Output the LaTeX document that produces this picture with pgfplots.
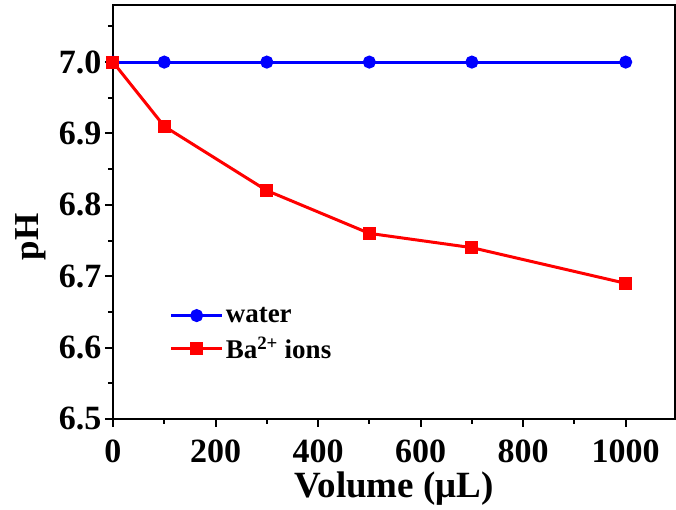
\documentclass[border=0pt]{standalone}
\usepackage{fontspec}
\setmainfont{Liberation Serif}
\usepackage{pgfplots}
\pgfplotsset{compat=1.18}
\begin{document}
\begin{tikzpicture}
\begin{axis}[
  name=ax,
  scale only axis,
  width=562pt, height=414pt,
  xmin=0, xmax=1096,
  ymin=6.5, ymax=7.08,
  xtick={0,200,...,1000},
  minor xtick={100,300,...,900},
  ytick={6.5,6.6,...,7.0},
  minor ytick={6.55,6.65,...,7.05},
  xticklabel style={/pgf/number format/1000 sep={}, yshift=-9pt},
  yticklabel style={/pgf/number format/.cd,fixed,fixed zerofill,precision=1},
  /pgf/number format/assume math mode=true,
  tick label style={font=\fontsize{34}{36}\selectfont\bfseries},
  xtick pos=bottom, ytick pos=left,
  tick align=outside,
  major tick length=8pt, minor tick length=5pt,
  every tick/.style={black, line width=2pt},
  axis line style={line width=2.2pt},
  xlabel={Volume (μL)},
  ylabel={pH},
  label style={font=\fontsize{37}{39}\selectfont\bfseries},
  xlabel style={yshift=-3pt},
  ylabel style={at={(ticklabel cs:0.44)}, yshift=6pt, font=\fontsize{35}{37}\selectfont\bfseries},
  legend style={draw=none, fill=none, at={(0.095,0.28)}, anchor=north west,
    font=\fontsize{27}{29}\selectfont\bfseries, row sep=9pt},
  legend cell align=left,
  legend image code/.code={
    \draw[mark repeat=2,mark phase=2] plot coordinates {(0cm,0cm) (0.9cm,0cm) (1.8cm,0cm)};
  },
]
\addplot[blue, line width=3pt, mark=*, mark size=5pt] coordinates {
(0,7.0) (100,7.0) (300,7.0) (500,7.0) (700,7.0) (1000,7.0)};
\addlegendentry{water}
\addplot[red, line width=3pt, mark=square*, mark size=5pt] coordinates {
(0,7.0) (100,6.91) (300,6.82) (500,6.76) (700,6.74) (1000,6.69)};
\addlegendentry{Ba\textsuperscript{2+} ions}
\end{axis}
\path ([xshift=-113pt,yshift=-91pt]ax.south west) rectangle ([xshift=1pt,yshift=5pt]ax.north east);
\end{tikzpicture}
\end{document}
